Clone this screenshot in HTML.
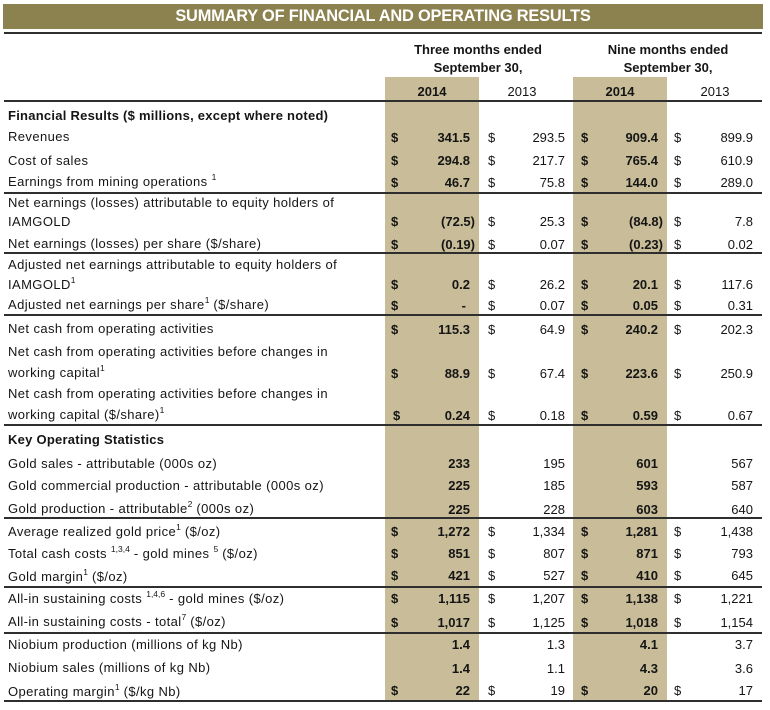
<!DOCTYPE html>
<html>
<head>
<meta charset="utf-8">
<style>
  html, body { margin:0; padding:0; background:#fff; }
  body { width:770px; height:710px; position:relative; overflow:hidden;
         font-family:"Liberation Sans", Arial, sans-serif; font-size:13px; color:#151515; }
  .abs { position:absolute; white-space:nowrap; line-height:16px; height:16px; }
  .title { position:absolute; left:3px; top:4px; width:760px; height:25px; background:#8c8250;
           color:#fff; font-weight:bold; font-size:16.4px; line-height:25px; text-align:center; letter-spacing:-0.2px; }
  .hl { position:absolute; left:4px; width:758px; height:2px; background:#2e2e2e; }
  .shade { position:absolute; top:77px; height:624px; width:94px; background:#c8bd98; }
  .lbl { left:8px; letter-spacing:0.4px; }
  .lbl.b { letter-spacing:0.25px; }
  .b { font-weight:bold; }
  .d1 { left:391px; font-weight:bold; }
  .v1 { right:300px; font-weight:bold; text-align:right; }
  .d2 { left:488px; }
  .v2 { right:205px; text-align:right; }
  .d3 { left:581px; font-weight:bold; }
  .v3 { right:112px; font-weight:bold; text-align:right; }
  .d4 { left:674px; }
  .v4 { right:17px; text-align:right; }
  sup { font-size:8.5px; vertical-align:6px; line-height:0; letter-spacing:0; }
  .ctr { text-align:center; }
</style>
</head>
<body>
<div class="title">SUMMARY OF FINANCIAL AND OPERATING RESULTS</div>
<div class="hl" style="top:32px;"></div>

<div class="shade" style="left:385px;"></div>
<div class="shade" style="left:573px;"></div>

<!-- header -->
<div class="abs b ctr" style="left:398px;width:160px;top:42px;">Three months ended</div>
<div class="abs b ctr" style="left:398px;width:160px;top:60px;">September 30,</div>
<div class="abs b ctr" style="left:588px;width:160px;top:42px;">Nine months ended</div>
<div class="abs b ctr" style="left:588px;width:160px;top:60px;">September 30,</div>
<div class="abs b ctr" style="left:385px;width:94px;top:84px;">2014</div>
<div class="abs ctr" style="left:480px;width:84px;top:84px;">2013</div>
<div class="abs b ctr" style="left:573px;width:94px;top:84px;">2014</div>
<div class="abs ctr" style="left:673px;width:84px;top:84px;">2013</div>
<div class="hl" style="top:100px;"></div>

<!-- Financial Results -->
<div class="abs lbl b" style="top:108px;">Financial Results ($ millions, except where noted)</div>

<div class="abs lbl" style="top:129px;">Revenues</div>
<div class="abs d1" style="top:130px;">$</div><div class="abs v1" style="top:130px;">341.5</div>
<div class="abs d2" style="top:130px;">$</div><div class="abs v2" style="top:130px;">293.5</div>
<div class="abs d3" style="top:130px;">$</div><div class="abs v3" style="top:130px;">909.4</div>
<div class="abs d4" style="top:130px;">$</div><div class="abs v4" style="top:130px;">899.9</div>

<div class="abs lbl" style="top:153px;">Cost of sales</div>
<div class="abs d1" style="top:153px;">$</div><div class="abs v1" style="top:153px;">294.8</div>
<div class="abs d2" style="top:153px;">$</div><div class="abs v2" style="top:153px;">217.7</div>
<div class="abs d3" style="top:153px;">$</div><div class="abs v3" style="top:153px;">765.4</div>
<div class="abs d4" style="top:153px;">$</div><div class="abs v4" style="top:153px;">610.9</div>

<div class="abs lbl" style="top:174px;">Earnings from mining operations <sup>1</sup></div>
<div class="abs d1" style="top:175px;">$</div><div class="abs v1" style="top:175px;">46.7</div>
<div class="abs d2" style="top:175px;">$</div><div class="abs v2" style="top:175px;">75.8</div>
<div class="abs d3" style="top:175px;">$</div><div class="abs v3" style="top:175px;">144.0</div>
<div class="abs d4" style="top:175px;">$</div><div class="abs v4" style="top:175px;">289.0</div>
<div class="hl" style="top:192px;"></div>

<div class="abs lbl" style="top:195px;">Net earnings (losses) attributable to equity holders of</div>
<div class="abs lbl" style="top:214px;">IAMGOLD</div>
<div class="abs d1" style="top:214px;">$</div><div class="abs v1" style="top:214px;right:295px;">(72.5)</div>
<div class="abs d2" style="top:214px;">$</div><div class="abs v2" style="top:214px;">25.3</div>
<div class="abs d3" style="top:214px;">$</div><div class="abs v3" style="top:214px;right:107px;">(84.8)</div>
<div class="abs d4" style="top:214px;">$</div><div class="abs v4" style="top:214px;">7.8</div>

<div class="abs lbl" style="top:236px;">Net earnings (losses) per share ($/share)</div>
<div class="abs d1" style="top:237px;">$</div><div class="abs v1" style="top:237px;right:295px;">(0.19)</div>
<div class="abs d2" style="top:237px;">$</div><div class="abs v2" style="top:237px;">0.07</div>
<div class="abs d3" style="top:237px;">$</div><div class="abs v3" style="top:237px;right:107px;">(0.23)</div>
<div class="abs d4" style="top:237px;">$</div><div class="abs v4" style="top:237px;">0.02</div>
<div class="hl" style="top:252px;"></div>

<div class="abs lbl" style="top:257px;">Adjusted net earnings attributable to equity holders of</div>
<div class="abs lbl" style="top:277px;">IAMGOLD<sup>1</sup></div>
<div class="abs d1" style="top:277px;">$</div><div class="abs v1" style="top:277px;">0.2</div>
<div class="abs d2" style="top:277px;">$</div><div class="abs v2" style="top:277px;">26.2</div>
<div class="abs d3" style="top:277px;">$</div><div class="abs v3" style="top:277px;">20.1</div>
<div class="abs d4" style="top:277px;">$</div><div class="abs v4" style="top:277px;">117.6</div>

<div class="abs lbl" style="top:297px;">Adjusted net earnings per share<sup>1</sup> ($/share)</div>
<div class="abs d1" style="top:298px;">$</div><div class="abs v1" style="top:298px;right:304px;">-</div>
<div class="abs d2" style="top:298px;">$</div><div class="abs v2" style="top:298px;">0.07</div>
<div class="abs d3" style="top:298px;">$</div><div class="abs v3" style="top:298px;">0.05</div>
<div class="abs d4" style="top:298px;">$</div><div class="abs v4" style="top:298px;">0.31</div>
<div class="hl" style="top:314px;"></div>

<div class="abs lbl" style="top:321px;">Net cash from operating activities</div>
<div class="abs d1" style="top:322px;">$</div><div class="abs v1" style="top:322px;">115.3</div>
<div class="abs d2" style="top:322px;">$</div><div class="abs v2" style="top:322px;">64.9</div>
<div class="abs d3" style="top:322px;">$</div><div class="abs v3" style="top:322px;">240.2</div>
<div class="abs d4" style="top:322px;">$</div><div class="abs v4" style="top:322px;">202.3</div>

<div class="abs lbl" style="top:344px;">Net cash from operating activities before changes in</div>
<div class="abs lbl" style="top:365px;">working capital<sup>1</sup></div>
<div class="abs d1" style="top:366px;">$</div><div class="abs v1" style="top:366px;">88.9</div>
<div class="abs d2" style="top:366px;">$</div><div class="abs v2" style="top:366px;">67.4</div>
<div class="abs d3" style="top:366px;">$</div><div class="abs v3" style="top:366px;">223.6</div>
<div class="abs d4" style="top:366px;">$</div><div class="abs v4" style="top:366px;">250.9</div>

<div class="abs lbl" style="top:386px;">Net cash from operating activities before changes in</div>
<div class="abs lbl" style="top:407px;">working capital ($/share)<sup>1</sup></div>
<div class="abs d1" style="top:408px;left:393px;">$</div><div class="abs v1" style="top:408px;">0.24</div>
<div class="abs d2" style="top:408px;">$</div><div class="abs v2" style="top:408px;">0.18</div>
<div class="abs d3" style="top:408px;">$</div><div class="abs v3" style="top:408px;">0.59</div>
<div class="abs d4" style="top:408px;">$</div><div class="abs v4" style="top:408px;">0.67</div>
<div class="hl" style="top:424px;"></div>

<!-- Key Operating Statistics -->
<div class="abs lbl b" style="top:432px;">Key Operating Statistics</div>

<div class="abs lbl" style="top:456px;">Gold sales - attributable (000s oz)</div>
<div class="abs v1" style="top:456px;">233</div>
<div class="abs v2" style="top:456px;">195</div>
<div class="abs v3" style="top:456px;">601</div>
<div class="abs v4" style="top:456px;">567</div>

<div class="abs lbl" style="top:478px;">Gold commercial production - attributable (000s oz)</div>
<div class="abs v1" style="top:478px;">225</div>
<div class="abs v2" style="top:478px;">185</div>
<div class="abs v3" style="top:478px;">593</div>
<div class="abs v4" style="top:478px;">587</div>

<div class="abs lbl" style="top:501px;">Gold production - attributable<sup>2</sup> (000s oz)</div>
<div class="abs v1" style="top:502px;">225</div>
<div class="abs v2" style="top:502px;">228</div>
<div class="abs v3" style="top:502px;">603</div>
<div class="abs v4" style="top:502px;">640</div>
<div class="hl" style="top:517px;"></div>

<div class="abs lbl" style="top:524px;">Average realized gold price<sup>1</sup> ($/oz)</div>
<div class="abs d1" style="top:524px;">$</div><div class="abs v1" style="top:524px;">1,272</div>
<div class="abs d2" style="top:524px;">$</div><div class="abs v2" style="top:524px;">1,334</div>
<div class="abs d3" style="top:524px;">$</div><div class="abs v3" style="top:524px;">1,281</div>
<div class="abs d4" style="top:524px;">$</div><div class="abs v4" style="top:524px;">1,438</div>

<div class="abs lbl" style="top:546px;">Total cash costs <sup>1,3,4</sup> - gold mines <sup>5</sup> ($/oz)</div>
<div class="abs d1" style="top:546px;">$</div><div class="abs v1" style="top:546px;">851</div>
<div class="abs d2" style="top:546px;">$</div><div class="abs v2" style="top:546px;">807</div>
<div class="abs d3" style="top:546px;">$</div><div class="abs v3" style="top:546px;">871</div>
<div class="abs d4" style="top:546px;">$</div><div class="abs v4" style="top:546px;">793</div>

<div class="abs lbl" style="top:569px;">Gold margin<sup>1</sup> ($/oz)</div>
<div class="abs d1" style="top:568px;">$</div><div class="abs v1" style="top:568px;">421</div>
<div class="abs d2" style="top:568px;">$</div><div class="abs v2" style="top:568px;">527</div>
<div class="abs d3" style="top:568px;">$</div><div class="abs v3" style="top:568px;">410</div>
<div class="abs d4" style="top:568px;">$</div><div class="abs v4" style="top:568px;">645</div>
<div class="hl" style="top:586px;"></div>

<div class="abs lbl" style="top:591px;">All-in sustaining costs <sup>1,4,6</sup> - gold mines ($/oz)</div>
<div class="abs d1" style="top:591px;">$</div><div class="abs v1" style="top:591px;">1,115</div>
<div class="abs d2" style="top:591px;">$</div><div class="abs v2" style="top:591px;">1,207</div>
<div class="abs d3" style="top:591px;">$</div><div class="abs v3" style="top:591px;">1,138</div>
<div class="abs d4" style="top:591px;">$</div><div class="abs v4" style="top:591px;">1,221</div>

<div class="abs lbl" style="top:614px;">All-in sustaining costs - total<sup>7</sup> ($/oz)</div>
<div class="abs d1" style="top:615px;">$</div><div class="abs v1" style="top:615px;">1,017</div>
<div class="abs d2" style="top:615px;">$</div><div class="abs v2" style="top:615px;">1,125</div>
<div class="abs d3" style="top:615px;">$</div><div class="abs v3" style="top:615px;">1,018</div>
<div class="abs d4" style="top:615px;">$</div><div class="abs v4" style="top:615px;">1,154</div>
<div class="hl" style="top:632px;"></div>

<div class="abs lbl" style="top:637px;">Niobium production (millions of kg Nb)</div>
<div class="abs v1" style="top:637px;">1.4</div>
<div class="abs v2" style="top:637px;">1.3</div>
<div class="abs v3" style="top:637px;">4.1</div>
<div class="abs v4" style="top:637px;">3.7</div>

<div class="abs lbl" style="top:660px;">Niobium sales (millions of kg Nb)</div>
<div class="abs v1" style="top:661px;">1.4</div>
<div class="abs v2" style="top:661px;">1.1</div>
<div class="abs v3" style="top:661px;">4.3</div>
<div class="abs v4" style="top:661px;">3.6</div>

<div class="abs lbl" style="top:684px;">Operating margin<sup>1</sup> ($/kg Nb)</div>
<div class="abs d1" style="top:683px;">$</div><div class="abs v1" style="top:683px;">22</div>
<div class="abs d2" style="top:683px;">$</div><div class="abs v2" style="top:683px;">19</div>
<div class="abs d3" style="top:683px;">$</div><div class="abs v3" style="top:683px;">20</div>
<div class="abs d4" style="top:683px;">$</div><div class="abs v4" style="top:683px;">17</div>
<div class="hl" style="top:700px;"></div>
</body>
</html>
